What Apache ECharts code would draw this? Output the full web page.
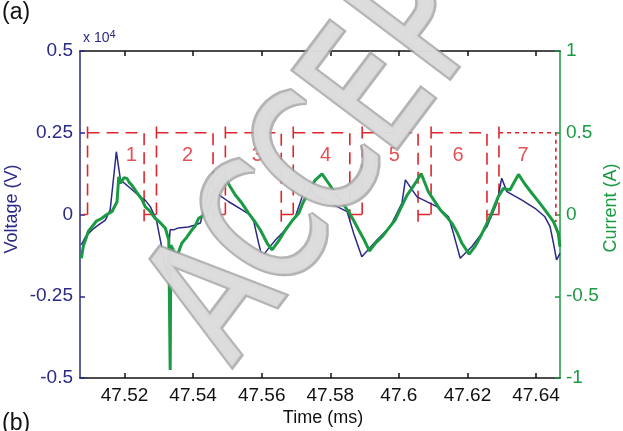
<!DOCTYPE html>
<html><head><meta charset="utf-8">
<script src="https://cdn.jsdelivr.net/npm/echarts@6/dist/echarts.min.js"></script>
<style>html,body{margin:0;padding:0;background:#fff}#c{width:623px;height:431px}</style>
</head><body><div id="c"></div>
<script>
// ---- data ----
const xTickValues = [47.52, 47.54, 47.56, 47.58, 47.60, 47.62, 47.64];
const xTickLabels = ['47.52', '47.54', '47.56', '47.58', '47.6', '47.62', '47.64'];
// voltage in units of x10^4 V
const voltTime = [47.5074,47.5086,47.5105,47.5124,47.5144,47.5158,47.5176,47.5188,47.5212,47.5250,47.5260,47.5275,47.5293,47.5308,47.5322,47.5326,47.5333,47.5343,47.5357,47.5386,47.5406,47.5421,47.5441,47.5451,47.5460,47.5475,47.5504,47.5543,47.5567,47.5577,47.5591,47.5601,47.5616,47.5640,47.5669,47.5698,47.5718,47.5727,47.5761,47.5820,47.5849,47.5868,47.5892,47.5936,47.5975,47.6009,47.6019,47.6053,47.6111,47.6145,47.6159,47.6179,47.6213,47.6257,47.6286,47.6300,47.6315,47.6359,47.6397,47.6426,47.6441,47.6451,47.6460,47.6470];
const voltage = [-0.093,-0.068,-0.047,-0.032,-0.017,0.014,0.192,0.106,0.085,0.050,0.044,0.024,-0.017,-0.098,-0.190,-0.194,-0.047,-0.047,-0.041,-0.038,-0.032,-0.026,0.054,0.111,0.081,0.060,0.039,0.014,-0.002,-0.022,-0.088,-0.129,-0.109,-0.078,-0.047,-0.007,0.054,0.102,0.054,0.024,0.009,-0.057,-0.129,-0.078,-0.037,0.035,0.106,0.054,0.024,-0.007,-0.057,-0.134,-0.098,-0.037,0.035,0.111,0.070,0.044,0.019,-0.007,-0.037,-0.088,-0.139,-0.119];
// current in A
const curTime = [47.5074,47.5080,47.5086,47.5095,47.5105,47.5118,47.5134,47.5148,47.5163,47.5178,47.5183,47.5188,47.5198,47.5207,47.5214,47.5221,47.5231,47.5241,47.5250,47.5260,47.5274,47.5289,47.5304,47.5319,47.5329,47.5333,47.5335,47.5352,47.5360,47.5367,47.5381,47.5396,47.5406,47.5416,47.5431,47.5446,47.5460,47.5475,47.5485,47.5494,47.5508,47.5523,47.5542,47.5562,47.5579,47.5596,47.5616,47.5630,47.5650,47.5669,47.5688,47.5708,47.5720,47.5732,47.5744,47.5756,47.5776,47.5797,47.5818,47.5836,47.5855,47.5869,47.5883,47.5899,47.5914,47.5932,47.5951,47.5970,47.5989,47.6006,47.6024,47.6038,47.6052,47.6065,47.6086,47.6103,47.6121,47.6138,47.6155,47.6170,47.6184,47.6205,47.6223,47.6237,47.6252,47.6271,47.6290,47.6305,47.6324,47.6337,47.6349,47.6368,47.6388,47.6407,47.6426,47.6451,47.6465,47.6470];
const current = [-0.268,-0.190,-0.156,-0.100,-0.075,-0.040,-0.023,0.000,0.017,0.078,0.231,0.191,0.225,0.221,0.195,0.180,0.150,0.119,0.095,0.048,0.020,-0.023,-0.050,-0.084,-0.156,-0.951,-0.187,-0.258,-0.215,-0.176,-0.140,-0.095,-0.070,-0.023,-0.005,0.028,0.150,0.170,0.195,0.221,0.170,0.119,0.070,0.007,-0.040,-0.095,-0.176,-0.217,-0.160,-0.095,-0.040,0.007,0.070,0.119,0.165,0.211,0.248,0.185,0.119,0.070,0.012,-0.040,-0.095,-0.156,-0.223,-0.175,-0.136,-0.085,-0.034,0.040,0.119,0.160,0.205,0.251,0.139,0.085,0.028,-0.010,-0.054,-0.110,-0.176,-0.242,-0.193,-0.140,-0.075,0.010,0.109,0.160,0.150,0.200,0.245,0.185,0.130,0.080,0.028,-0.044,-0.115,-0.197];
// analysis windows
const winStart = [47.5092, 47.5293, 47.5494, 47.5692, 47.5893, 47.6094, 47.6292];
const winEnd   = [47.5257, 47.5458, 47.5657, 47.5857, 47.6056, 47.6257, 47.6458];
const winFootStart = 47.5078;
const winLevel = 0.25, winEdgeTop = 0.283, winEdgeBottom = -0.023, winBase = 0;
const winLabels = ['1', '2', '3', '4', '5', '6', '7'];
const winLabelTime = [47.5220, 47.5384, 47.5587, 47.5786, 47.5987, 47.6173, 47.6362];
const winLabelLevel = 0.182;

// ---- styles ----
const NAVY = '#2a2a86', GREEN = '#1a9a42', RED = '#de262c';
const FONT = '"Liberation Sans", Arial, sans-serif';

const redSeries = [];
function seg(pts, fine) {
  redSeries.push({
    type: 'line', xAxisIndex: 0, yAxisIndex: 0, data: pts, showSymbol: false, silent: true,
    lineStyle: { color: RED, width: 1.6, type: fine ? [4, 4] : [12, 7] }, z: 3
  });
}
seg([[winFootStart, winBase], [winStart[0], winBase]]);
for (let k = 0; k < winStart.length; k++) {
  seg([[winStart[k], winBase], [winStart[k], winEdgeTop]]);
  const last = k === winStart.length - 1;
  seg([[winStart[k], winLevel], [winEnd[k], winLevel], [winEnd[k], winEdgeBottom]], last);
  if (!last) seg([[winEnd[k], winBase], [winStart[k + 1], winBase]]);
}

const chart = echarts.init(document.getElementById('c'));
const axisTickCommon = { inside: true, length: 5 };
const wmLetters = 'ACCEPTED'.split('');
const wmAngle = 53 * Math.PI / 180;
function wmLayer(outer) {
  return wmLetters.map((ch, i) => ({
    type: 'text', x: i * 86, y: 0, scaleX: 0.75, z: outer ? 100 : 101,
    style: outer
      ? { text: ch, font: '175px "DejaVu Sans"', fill: '#b4b4b4', stroke: '#a2a2a2', lineWidth: 7,
          align: 'center', verticalAlign: 'middle', opacity: 0.82,
          shadowBlur: 4, shadowColor: 'rgba(0,0,0,0.25)', shadowOffsetX: 2, shadowOffsetY: 2 }
      : { text: ch, font: '175px "DejaVu Sans"', fill: '#e2e2e2', stroke: '#cfcfcf', lineWidth: 2,
          align: 'center', verticalAlign: 'middle', opacity: 0.85 }
  }));
}

chart.setOption({
  animation: false,
  backgroundColor: '#fff',
  grid: { left: 80, right: 63, top: 51, bottom: 53, containLabel: false },
  xAxis: [
    { type: 'value', min: 47.507, max: 47.647, position: 'bottom',
      axisLine: { onZero: false, lineStyle: { color: '#111', width: 1.5 } },
      axisTick: Object.assign({ customValues: xTickValues, lineStyle: { color: '#111', width: 1.5 } }, axisTickCommon),
      axisLabel: { customValues: xTickValues, margin: 8, color: '#111', fontSize: 19, fontFamily: FONT,
        formatter: v => { const i = xTickValues.findIndex(t => Math.abs(t - v) < 1e-6); return i >= 0 ? xTickLabels[i] : ''; } },
      splitLine: { show: false } },
    { type: 'value', min: 47.507, max: 47.647, position: 'top',
      axisLine: { onZero: false, lineStyle: { color: '#111', width: 1.5 } },
      axisTick: Object.assign({ customValues: xTickValues, lineStyle: { color: '#111', width: 1.5 } }, axisTickCommon),
      axisLabel: { show: false }, splitLine: { show: false } }
  ],
  yAxis: [
    { type: 'value', min: -0.5, max: 0.5, interval: 0.25, position: 'left',
      axisLine: { show: true, onZero: false, lineStyle: { color: NAVY, width: 1.5 } },
      axisTick: Object.assign({ lineStyle: { color: NAVY, width: 1.5 } }, axisTickCommon),
      axisLabel: { margin: 7, color: NAVY, fontSize: 19, fontFamily: FONT },
      splitLine: { show: false } },
    { type: 'value', min: -1, max: 1, interval: 0.5, position: 'right',
      axisLine: { show: true, onZero: false, lineStyle: { color: GREEN, width: 1.5 } },
      axisTick: Object.assign({ lineStyle: { color: GREEN, width: 1.5 } }, axisTickCommon),
      axisLabel: { margin: 6, color: GREEN, fontSize: 19, fontFamily: FONT },
      splitLine: { show: false } }
  ],
  series: [
    ...redSeries,
    { type: 'line', name: 'Voltage', xAxisIndex: 0, yAxisIndex: 0, showSymbol: false, z: 4,
      data: voltTime.map((t, i) => [t, voltage[i]]), lineStyle: { color: NAVY, width: 1.5 } },
    { type: 'line', name: 'Current', xAxisIndex: 0, yAxisIndex: 1, showSymbol: false, z: 5,
      data: curTime.map((t, i) => [t, current[i]]), lineStyle: { color: GREEN, width: 3 } },
    { type: 'scatter', xAxisIndex: 0, yAxisIndex: 0, symbolSize: 1, z: 6,
      itemStyle: { color: 'rgba(0,0,0,0)' },
      data: winLabelTime.map((t, i) => ({ value: [t, winLabelLevel], name: winLabels[i] })),
      label: { show: true, position: 'inside', formatter: p => p.name, color: RED, fontSize: 20, fontFamily: FONT } }
  ],
  graphic: [
    { type: 'text', left: 2, top: 1, style: { text: '(a)', font: '23px ' + FONT, fill: '#111' } },
    { type: 'text', left: 2, top: 412, style: { text: '(b)', font: '23px ' + FONT, fill: '#111' } },
    { type: 'text', left: 83, top: 29, style: { text: 'x 10{s|4}', font: '14px ' + FONT, fill: NAVY,
      rich: { s: { fontSize: 11, verticalAlign: 'top', padding: [0, 0, 7, 0], fill: NAVY, fontFamily: FONT } } } },
    { type: 'text', x: 12, y: 209, rotation: Math.PI / 2,
      style: { text: 'Voltage (V)', font: '18px ' + FONT, fill: NAVY, align: 'center', verticalAlign: 'middle' } },
    { type: 'text', x: 611, y: 208, rotation: Math.PI / 2,
      style: { text: 'Current (A)', font: '18px ' + FONT, fill: GREEN, align: 'center', verticalAlign: 'middle' } },
    { type: 'text', x: 323, y: 418,
      style: { text: 'Time (ms)', font: '18px ' + FONT, fill: '#111', align: 'center', verticalAlign: 'middle' } },
    { type: 'group', x: 222, y: 303, rotation: wmAngle, z: 100, children: wmLayer(true) },
    { type: 'group', x: 222, y: 303, rotation: wmAngle, z: 101, children: wmLayer(false) }
  ]
});
</script>
</body></html>
